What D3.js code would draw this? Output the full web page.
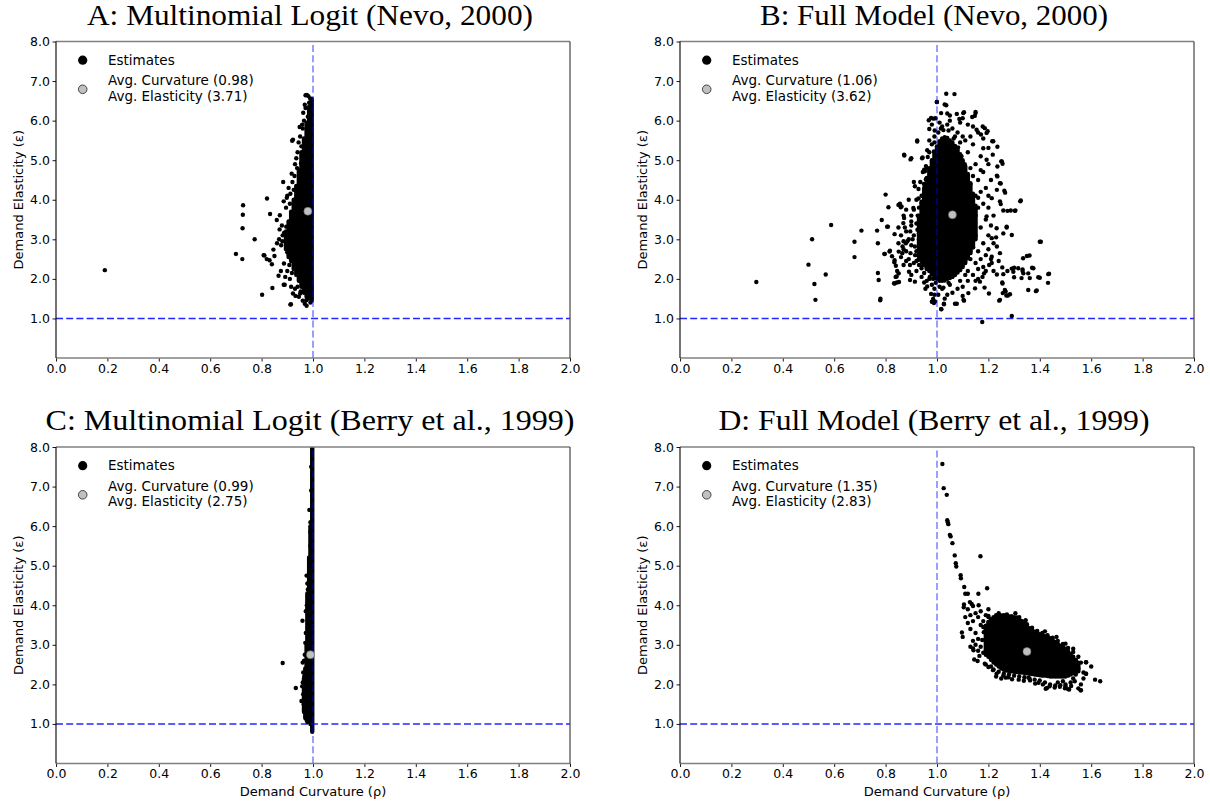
<!DOCTYPE html>
<html>
<head>
<meta charset="utf-8">
<script src="https://d3js.org/d3.v7.min.js"></script>
<style>
  body { margin: 0; background: #fff; }
</style>
</head>
<body>
<svg id="chart" width="1210" height="802"></svg>
<script>
// axis ticks
const xTicks = [0.0, 0.2, 0.4, 0.6, 0.8, 1.0, 1.2, 1.4, 1.6, 1.8, 2.0];
const yTicks = [1.0, 2.0, 3.0, 4.0, 5.0, 6.0, 7.0, 8.0];

const titles = [
  "A: Multinomial Logit (Nevo, 2000)",
  "B: Full Model (Nevo, 2000)",
  "C: Multinomial Logit (Berry et al., 1999)",
  "D: Full Model (Berry et al., 1999)"
];
const avgCurvature = [0.98, 1.06, 0.99, 1.35];
const avgElasticity = [3.71, 3.62, 2.75, 2.83];

// single estimates: [curvature, elasticity]
const pointsA = [
  [0.19,2.22],[0.70,2.63],[0.725,2.50],[0.726,3.28],[0.727,3.62],[0.728,3.86],[0.773,3.0],
  [0.802,1.60],[0.808,2.60],[0.811,2.59],[0.821,4.03],[0.833,3.64],[0.82,2.5],[0.831,2.47],
  [0.84,2.37],[0.842,1.77],[0.846,2.74],[0.85,2.58],[0.859,3.49],[0.866,2.08],[0.868,3.0],
  [0.886,1.85],[0.912,1.35],[0.919,5.49],[0.971,6.64],[0.884,4.45],[0.92,4.45],[0.917,4.66],
  [0.954,4.92],[0.922,5.52],[0.948,5.84],[0.971,6.32],[0.976,6.65],[0.989,6.56],[0.89,1.85],
  [0.914,1.36],[0.932,1.57],[0.968,1.37],[0.974,1.46],[0.886,3.96],[0.871,3.61],[0.896,3.32],
  [0.888,3.17],[0.881,2.95],[0.9,2.67],[0.887,2.39],[0.922,1.63],[0.95,1.63],[0.93,4.9],
  [0.94,5.2],[0.95,5.6],[0.96,5.8],[0.955,5.35],[0.9,4.1],[0.895,3.8],[0.905,2.55],[0.9,2.2],
  [0.91,2.0],[0.93,1.75],[0.945,1.55],[0.96,1.45],[0.975,1.32],[0.99,1.4],[0.98,6.1],
  [0.965,6.0],[0.985,6.45],[0.876,2.85],[0.879,3.35],[0.892,2.05],[0.905,4.3],[0.91,3.9],
  [0.925,4.25],[0.935,5.05],[0.962,6.2],[0.875,2.2],[0.86,2.9],[0.87,3.25],
  [0.908,2.35],[0.918,2.15],[0.928,4.6],[0.938,4.8],[0.898,4.05],[0.912,4.15],[0.882,3.1],
  [0.944,5.45],[0.958,5.9],[0.968,6.4],[0.982,6.62],[0.94,1.8],[0.952,1.68],[0.915,1.8]
];
const pointsB = [
  [0.297,1.92],[0.514,3.0],[0.5,2.36],[0.567,2.11],[0.523,1.87],[0.527,1.47],[0.588,3.36],
  [0.679,2.94],[0.679,2.55],[0.706,3.22],[0.767,3.22],[0.770,2.90],[0.770,2.15],[0.773,1.97],
  [0.780,1.50],[0.779,1.46],[0.785,3.49],[0.8,4.13],[0.811,3.81],[0.795,2.63],[0.809,3.32],
  [0.817,2.71],[0.835,2.47],[0.839,2.05],[0.835,1.88],[0.852,1.92],[0.845,2.20],[0.85,3.87],
  [0.859,3.81],[0.873,5.12],[0.897,5.02],[0.923,5.47],[0.942,5.05],[0.968,6.01],[0.986,6.05],
  [1.0,6.47],[1.036,6.68],[1.068,6.67],[1.036,6.39],[1.105,6.21],[1.15,6.22],[1.147,6.12],
  [1.186,5.81],[1.197,5.73],[1.215,5.48],[1.235,5.34],[1.25,4.97],[1.255,4.91],[1.233,4.61],
  [1.248,4.41],[1.265,4.18],[1.248,3.89],[1.274,3.72],[1.303,3.72],[1.324,3.96],[1.291,3.11],
  [1.271,3.30],[1.4,2.94],[1.35,2.58],[1.335,2.52],[1.370,2.28],[1.333,2.20],[1.329,2.02],
  [1.361,2.02],[1.394,2.04],[1.433,2.12],[1.432,1.90],[1.355,1.72],[1.388,1.71],[1.291,2.26],
  [1.3,2.28],[1.274,2.20],[1.3,2.04],[1.255,1.88],[1.264,1.72],[1.27,1.58],[1.276,1.58],
  [1.242,1.45],[1.202,1.63],[1.185,1.78],[1.177,2.05],[1.291,1.06],[1.176,0.91],[1.07,1.37],
  [1.017,1.23],[0.988,1.39],[0.98,1.42],[1.105,1.45],[1.027,1.36],[1.233,2.11],
  [0.806,3.32],[0.797,2.63],[0.815,2.69],[0.825,2.57],[0.834,2.42],[0.84,2.33],[0.835,3.13],
  [0.856,3.90],[0.862,3.83],[0.869,3.41],[0.872,3.54],[0.851,2.69],[0.851,2.14],[0.843,2.06],
  [0.844,1.91],[0.833,1.89],[0.891,2.18],[0.895,1.97],[0.914,1.93],[0.9,3.35],[0.896,3.2],
  [0.908,3.79],[0.928,4.27],[0.928,4.03],[0.914,4.34],[0.872,5.14],[0.9,5.05],[0.923,5.50],
  [0.944,5.07],[0.950,4.76],[0.957,4.52],[0.94,3.92],[0.937,3.59],[0.924,3.24],[0.879,2.9],
  [0.866,2.82],[0.897,2.65],[0.914,2.82],[0.927,2.48],[0.94,2.27],[0.95,1.91],[0.962,1.81],
  [0.977,1.62],[0.985,1.49],[0.992,1.43],[1.016,1.24],[1.027,1.37],[1.005,1.60],[0.977,6.07],
  [0.994,6.06],[0.991,5.75],[0.97,5.79],[0.988,5.22],[0.964,5.08],[0.953,4.72],[0.999,6.47],
  [1.03,6.41],[1.016,6.19],[1.04,6.18],[1.05,6.13],[1.077,6.17],[1.102,6.19],[1.137,6.09],
  [1.15,6.19],[1.087,6.04],[1.1,6.06],[1.154,5.77],[1.178,5.85],[1.193,5.69],[1.171,5.65],
  [1.2,5.31],[1.193,5.01],[1.219,5.48],[1.217,5.14],[1.235,4.84],[1.252,4.97],[1.235,4.59],
  [1.245,4.42],[1.262,4.23],[1.233,4.25],[1.213,4.04],[1.245,3.96],[1.258,3.73],[1.287,3.73],
  [1.326,3.98],[1.305,3.73],[1.193,3.58],[1.232,3.28],[1.271,3.32],[1.258,3.15],[1.213,3.03],
  [1.233,2.82],[1.245,2.65],[1.213,2.56],[1.203,2.35],[1.183,2.14],[1.167,1.93],[1.148,1.76],
  [1.122,1.64],[1.103,1.47],[1.077,1.37],[1.1,1.57],[1.254,2.29],[1.254,1.91],[1.258,2.12],
  [1.267,1.68],[1.284,1.61],[1.245,1.47],[1.213,2.4],[1.297,2.18],[1.316,2.27],[1.333,2.24],
  [1.336,2.14],[1.355,2.14],[1.375,2.27],[1.404,2.94],[1.36,2.59],[1.4,2.03],[1.436,2.13],
  [1.385,1.69],[1.256,1.64],
  [0.86,3.1],[0.87,2.95],[0.88,3.2],[0.88,2.7],[0.89,2.5],[0.89,3.0],[0.9,2.85],[0.9,3.6],
  [0.91,2.4],[0.91,3.1],[0.92,2.7],[0.92,3.4],[0.92,2.2],[0.93,3.0],[0.93,3.8],[0.93,2.55],
  [0.94,2.35],[0.94,3.3],[0.94,4.1],[0.95,2.8],[0.95,3.6],[0.95,4.3],[0.95,2.15],[0.96,2.3],
  [0.96,4.8],[0.97,5.2],[0.97,2.0],[0.98,1.85],[0.96,1.95],[0.98,5.4],[0.99,5.6],[0.99,1.75],
  [0.97,5.5],[0.98,5.9],[0.99,1.6],[0.88,3.75],[0.89,4.0],[0.91,4.45],[0.9,2.1],[0.87,2.35],
  [0.86,2.55],[0.85,2.9],[0.87,3.6],[0.85,3.3],
  [1.12,2.2],[1.12,5.2],[1.13,2.5],[1.13,4.4],[1.13,4.8],[1.13,3.3],[1.14,2.1],[1.14,3.6],
  [1.14,2.8],[1.14,5.4],[1.15,4.1],[1.15,2.4],[1.15,3.1],[1.15,4.9],[1.16,2.0],[1.16,3.8],
  [1.16,4.5],[1.16,2.7],[1.17,3.3],[1.17,5.1],[1.17,4.2],[1.18,2.3],[1.18,3.9],[1.18,2.9],
  [1.18,4.7],[1.19,3.5],[1.19,2.6],[1.2,4.1],[1.2,3.1],[1.21,2.5],[1.21,4.5],[1.22,3.6],
  [1.22,2.2],[1.12,1.95],[1.1,1.8],[1.08,1.75],[1.06,1.65],[1.04,1.6],[1.03,1.5],[1.05,1.85],
  [1.02,1.75],[1.09,1.95],[1.11,2.1],[1.1,5.6],[1.08,5.7],[1.06,5.8],[1.04,5.9],[1.02,5.85],
  [1.01,5.95],[1.05,6.0],[1.11,5.5],[1.13,5.6],[1.09,5.45],[1.07,5.6],
  [0.948,2.62],[0.952,3.05],[0.944,3.45],[0.953,3.9],[0.949,4.4],[0.957,4.85],[0.962,5.25],
  [0.965,2.25],[0.972,2.05],[0.99,5.45],[1.005,5.7],[1.015,5.8],[1.025,5.76],[1.045,5.75],
  [1.065,5.55],[1.082,5.32],[1.095,5.1],[1.108,4.9],[1.118,4.6],[1.125,4.25],[1.128,3.85],
  [1.124,3.45],[1.118,3.1],[1.11,2.75],[1.1,2.5],[1.09,2.35],[1.075,2.2],[1.06,2.05],
  [1.045,1.9],[1.025,1.78],[1.01,1.8],[0.995,1.9],[0.985,2.0],
  [0.93,3.15],[0.935,2.85],[0.925,3.6],[0.915,2.6],[0.905,3.0],[0.895,2.35],[0.885,2.95],
  [0.875,3.3],[0.865,2.65],[0.9,3.45],[0.91,3.75],[0.92,4.0],[0.935,4.45],[0.945,4.7],
  [0.93,2.35],[0.92,2.45],[0.94,2.05],[0.955,1.75],[0.87,2.75],[0.88,2.45],
  [1.13,2.7],[1.14,3.35],[1.15,3.6],[1.16,4.05],[1.17,4.75],[1.18,5.3],[1.19,4.3],[1.2,3.8],
  [1.21,3.35],[1.22,2.9],[1.19,2.2],[1.17,2.5],[1.16,2.25],[1.15,1.95],[1.23,3.05],[1.24,2.45],
  [1.2,2.75],[1.18,5.55],[1.16,5.7],[1.14,5.85],[1.12,5.9],[1.09,5.95],[1.2,4.9],[1.14,4.6]
];
const pointsC = [
  [0.882,2.54],[0.933,1.91],[0.959,3.61],[0.955,1.58],[0.986,6.41],[0.975,4.75],[0.98,4.4],
  [0.976,4.0],[0.972,3.3],[0.968,2.75],[0.962,2.3],[0.96,2.55],[0.958,1.95],[0.962,1.75],
  [0.965,2.6],[0.972,3.85],[0.985,5.2],[0.99,5.5],[0.993,6.9],[0.993,7.5],[0.99,5.85],[0.99,6.1],
  [0.97,3.05],[0.966,2.2],[0.96,2.05],[0.964,1.5],[0.978,4.55]
];
const pointsD = [
  [1.021,7.57],[1.026,6.96],[1.038,6.79],[1.04,6.15],[1.042,6.1],[1.044,6.05],[1.05,5.78],
  [1.053,5.74],[1.06,5.57],[1.069,5.26],[1.073,5.06],[1.075,4.98],[1.169,5.24],[1.092,4.76],
  [1.093,4.68],[1.106,4.46],[1.195,4.43],[1.11,4.29],[1.12,4.29],[1.161,4.29],[1.105,4.02],
  [1.104,3.95],[1.128,4.08],[1.135,4.03],[1.14,3.98],[1.162,4.0],[1.2,3.73],[1.272,3.77],
  [1.097,3.31],[1.1,3.2],[1.14,2.91],[1.142,2.86],[1.145,2.63],[1.158,2.59],[1.423,1.89],
  [1.559,1.85],[1.514,1.87],[1.635,2.08],[1.615,2.12],[1.58,2.56],[1.58,2.27],[1.395,2.04],
  [1.356,2.17],[1.268,2.17],[1.428,1.91],
  [1.12,3.9],[1.13,3.75],[1.14,3.6],[1.13,3.4],[1.15,3.8],[1.16,3.7],[1.17,3.85],[1.15,3.3],
  [1.16,3.15],[1.17,3.5],[1.15,3.0],[1.17,2.95],[1.18,3.6],[1.18,2.8],[1.16,2.85],[1.14,3.1],
  [1.12,3.55],[1.11,3.7],[1.19,3.75],[1.2,3.7],[1.21,3.65],[1.22,3.7],[1.18,3.45],[1.13,2.95],
  [1.19,2.5],[1.21,2.45],[1.2,3.9],[1.23,3.75],[1.25,3.72],[1.27,3.72],[1.29,3.72],[1.31,3.67],
  [1.33,3.6],[1.35,3.52],[1.37,3.43],[1.39,3.35],[1.41,3.3],[1.43,3.24],[1.45,3.18],[1.47,3.1],
  [1.49,3.02],[1.51,2.92],[1.53,2.82],[1.55,2.7],[1.56,2.55],[1.55,2.4],[1.54,2.25],[1.53,2.15],
  [1.52,2.05],[1.5,2.0],[1.48,1.98],[1.46,1.97],[1.44,2.0],[1.47,2.05],[1.49,2.08],[1.42,2.05],
  [1.4,2.1],[1.38,2.12],[1.36,2.15],[1.34,2.18],[1.32,2.2],[1.3,2.22],[1.28,2.25],[1.26,2.27],
  [1.24,2.32],[1.22,2.38],[1.23,2.2],[1.25,2.15],[1.54,2.6],[1.57,2.3],[1.56,2.0],[1.55,1.9],
  [1.51,1.88],[1.5,1.95],[1.56,1.85],[1.58,2.27],[1.58,2.56],[1.6,2.45],
  [1.2,2.44],[1.218,2.36],[1.232,2.27],[1.258,2.22],[1.278,2.18],
  [1.292,2.13],[1.318,2.12],[1.338,2.09],[1.362,2.1],[1.382,2.02],[1.412,2.0],[1.438,1.95],
  [1.458,1.92],[1.478,1.94],[1.498,1.9],[1.522,1.96],[1.536,2.08],[1.545,2.47],[1.186,2.52],
  [1.182,3.32],[1.19,3.48],[1.176,3.12],[1.24,3.8],[1.32,3.7],[1.165,2.72],[1.57,2.15],
  [1.305,3.8],[1.345,3.62],[1.42,3.34],[1.465,3.2],[1.5,3.03],[1.53,2.9]
];

// areas where estimates overlap into solid black: [curvature, elasticity low, elasticity high]
const bandA = [
  [0.995,1.45,6.55],[0.985,1.5,6.35],[0.975,1.55,5.95],[0.965,1.65,5.55],[0.955,1.8,5.2],
  [0.945,1.95,4.75],[0.935,2.1,4.35],[0.925,2.25,4.0],[0.915,2.45,3.7],[0.905,2.6,3.45],
  [0.895,2.75,3.2]
];
const bandB = [
  [0.93,2.6,3.6],[0.94,2.45,3.95],[0.95,2.35,4.25],[0.96,2.25,4.55],[0.97,2.2,4.8],
  [0.98,2.12,5.0],[0.99,2.05,5.2],[1.00,2.0,5.35],[1.01,1.95,5.48],[1.02,1.95,5.55],
  [1.03,1.96,5.58],[1.04,2.0,5.56],[1.05,2.02,5.5],[1.06,2.06,5.45],[1.07,2.1,5.36],
  [1.08,2.16,5.26],[1.09,2.22,5.15],[1.10,2.3,5.0],[1.11,2.4,4.85],[1.12,2.52,4.65],
  [1.13,2.65,4.42],[1.14,2.8,4.15],[1.15,3.0,3.85]
];
const bandC = [
  [0.997,0.8,8.0],[0.99,1.0,6.0],[0.985,1.05,5.2],[0.978,1.05,4.3],[0.975,1.1,3.0],
  [0.97,1.15,2.4],[0.965,1.3,2.15]
];
const bandD = [
  [1.19,2.75,3.45],[1.20,2.7,3.58],[1.21,2.62,3.62],[1.22,2.55,3.66],[1.23,2.5,3.7],
  [1.24,2.45,3.72],[1.25,2.4,3.74],[1.26,2.37,3.75],[1.27,2.35,3.74],[1.28,2.34,3.72],
  [1.29,2.33,3.72],[1.30,2.32,3.7],[1.31,2.31,3.69],[1.32,2.3,3.66],[1.33,2.3,3.6],
  [1.34,2.29,3.54],[1.35,2.28,3.48],[1.36,2.27,3.42],[1.37,2.26,3.38],[1.38,2.25,3.33],
  [1.39,2.24,3.3],[1.40,2.23,3.27],[1.41,2.22,3.25],[1.42,2.22,3.22],[1.43,2.21,3.2],
  [1.44,2.2,3.17],[1.45,2.2,3.12],[1.46,2.2,3.07],[1.47,2.2,3.03],[1.48,2.2,2.98],
  [1.49,2.2,2.95],[1.50,2.2,2.9],[1.51,2.22,2.84],[1.52,2.25,2.77],[1.53,2.28,2.7],
  [1.54,2.3,2.62],[1.55,2.33,2.55]
];

const svg = d3.select("#chart");
const plotW = 514, plotH = 316.5;
const dotR = 2.2;
const tickFont = "'DejaVu Sans', sans-serif";

const panels = [
  { points: pointsA, band: bandA, left: 56,  top: 41.5, xLabel: false },
  { points: pointsB, band: bandB, left: 680, top: 41.5, xLabel: false },
  { points: pointsC, band: bandC, left: 56,  top: 447,  xLabel: true },
  { points: pointsD, band: bandD, left: 680, top: 447,  xLabel: true }
];
const titleWidths = [446, 348, 529, 431];

panels.forEach((p, i) => drawPanel(p, i));

function drawPanel(p, i) {
  const x = d3.scaleLinear().domain([0, 2]).range([p.left, p.left + plotW]);
  const y = d3.scaleLinear().domain([0, 8]).range([p.top + plotH, p.top]);

  svg.append("clipPath").attr("id", "clip" + i)
    .append("rect")
    .attr("x", p.left).attr("y", p.top)
    .attr("width", plotW).attr("height", plotH);

  const g = svg.append("g").attr("clip-path", `url(#clip${i})`);

  // solid overlapping columns of estimates
  g.selectAll(".band").data(p.band).join("line")
    .attr("class", "band")
    .attr("x1", d => x(d[0])).attr("x2", d => x(d[0]))
    .attr("y1", d => y(d[1])).attr("y2", d => y(d[2]))
    .attr("stroke", "#000")
    .attr("stroke-width", dotR * 2)
    .attr("stroke-linecap", "round");

  g.selectAll(".dot").data(p.points).join("circle")
    .attr("class", "dot")
    .attr("cx", d => x(d[0]))
    .attr("cy", d => y(d[1]))
    .attr("r", dotR)
    .attr("fill", "#000");

  // reference lines
  g.append("line")
    .attr("x1", x(1)).attr("x2", x(1))
    .attr("y1", y(0)).attr("y2", y(8))
    .attr("stroke", "#0000ff").attr("stroke-opacity", 0.55)
    .attr("stroke-width", 1.4)
    .attr("stroke-dasharray", "7,3.2");
  g.append("line")
    .attr("x1", x(0)).attr("x2", x(2))
    .attr("y1", y(1)).attr("y2", y(1))
    .attr("stroke", "#0000ff").attr("stroke-opacity", 0.85)
    .attr("stroke-width", 1.4)
    .attr("stroke-dasharray", "7,3.2");

  // average point
  g.append("circle")
    .attr("cx", x(avgCurvature[i]))
    .attr("cy", y(avgElasticity[i]))
    .attr("r", 4)
    .attr("fill", "#c0c0c0")
    .attr("stroke", "#666")
    .attr("stroke-width", 0.6);

  // axes
  const xAxis = svg.append("g")
    .attr("transform", `translate(0,${p.top + plotH})`)
    .call(d3.axisBottom(x).tickValues(xTicks).tickFormat(d3.format(".1f"))
      .tickSize(3.5).tickPadding(2.5).tickSizeOuter(0));
  const yAxis = svg.append("g")
    .attr("transform", `translate(${p.left},0)`)
    .call(d3.axisLeft(y).tickValues(yTicks).tickFormat(d3.format(".1f"))
      .tickSize(3.5).tickPadding(2.5).tickSizeOuter(0));
  [xAxis, yAxis].forEach(a => {
    a.select(".domain").remove();
    a.selectAll("text")
      .attr("font-family", tickFont)
      .attr("font-size", "12.5px")
      .attr("fill", "#000");
    a.selectAll("line").attr("stroke", "#000").attr("stroke-width", 0.9);
  });

  // spines
  svg.append("line")
    .attr("x1", p.left).attr("x2", p.left + plotW)
    .attr("y1", p.top).attr("y2", p.top)
    .attr("stroke", "#808080").attr("stroke-width", 1.6);
  svg.append("line")
    .attr("x1", p.left).attr("x2", p.left + plotW)
    .attr("y1", p.top + plotH).attr("y2", p.top + plotH)
    .attr("stroke", "#808080").attr("stroke-width", 1.6);
  svg.append("line")
    .attr("x1", p.left).attr("x2", p.left)
    .attr("y1", p.top).attr("y2", p.top + plotH)
    .attr("stroke", "#000").attr("stroke-width", 1.1);
  svg.append("line")
    .attr("x1", p.left + plotW).attr("x2", p.left + plotW)
    .attr("y1", p.top).attr("y2", p.top + plotH)
    .attr("stroke", "#333").attr("stroke-width", 1.1);

  // title
  svg.append("text")
    .attr("x", p.left + plotW / 2 - 3)
    .attr("y", p.top - 17)
    .attr("text-anchor", "middle")
    .attr("font-family", "'Liberation Serif', serif")
    .attr("font-size", "29px")
    .attr("textLength", titleWidths[i])
    .attr("lengthAdjust", "spacingAndGlyphs")
    .text(titles[i]);

  // axis labels
  svg.append("text")
    .attr("transform", `translate(${p.left - 38},${p.top + plotH / 2}) rotate(-90)`)
    .attr("text-anchor", "middle")
    .attr("dy", "0.35em")
    .attr("font-family", tickFont)
    .attr("font-size", "13px")
    .text("Demand Elasticity (ε)");
  if (p.xLabel) {
    svg.append("text")
      .attr("x", p.left + plotW / 2)
      .attr("y", p.top + plotH + 28)
      .attr("text-anchor", "middle")
      .attr("dy", "0.35em")
      .attr("font-family", tickFont)
      .attr("font-size", "13px")
      .text("Demand Curvature (ρ)");
  }

  // legend
  const lg = svg.append("g");
  lg.append("circle")
    .attr("cx", p.left + 26.7).attr("cy", p.top + 18.7)
    .attr("r", 4.6).attr("fill", "#000");
  lg.append("text")
    .attr("x", p.left + 52).attr("y", p.top + 18.7)
    .attr("dy", "0.35em")
    .attr("font-family", tickFont).attr("font-size", "13.5px")
    .text("Estimates");
  lg.append("circle")
    .attr("cx", p.left + 26.7).attr("cy", p.top + 47.8)
    .attr("r", 4.3).attr("fill", "#c0c0c0")
    .attr("stroke", "#333").attr("stroke-width", 0.9);
  lg.append("text")
    .attr("x", p.left + 52).attr("y", p.top + 39)
    .attr("dy", "0.35em")
    .attr("font-family", tickFont).attr("font-size", "13.5px")
    .text(`Avg. Curvature (${avgCurvature[i].toFixed(2)})`);
  lg.append("text")
    .attr("x", p.left + 52).attr("y", p.top + 54.7)
    .attr("dy", "0.35em")
    .attr("font-family", tickFont).attr("font-size", "13.5px")
    .text(`Avg. Elasticity (${avgElasticity[i].toFixed(2)})`);
}
</script>
</body>
</html>
